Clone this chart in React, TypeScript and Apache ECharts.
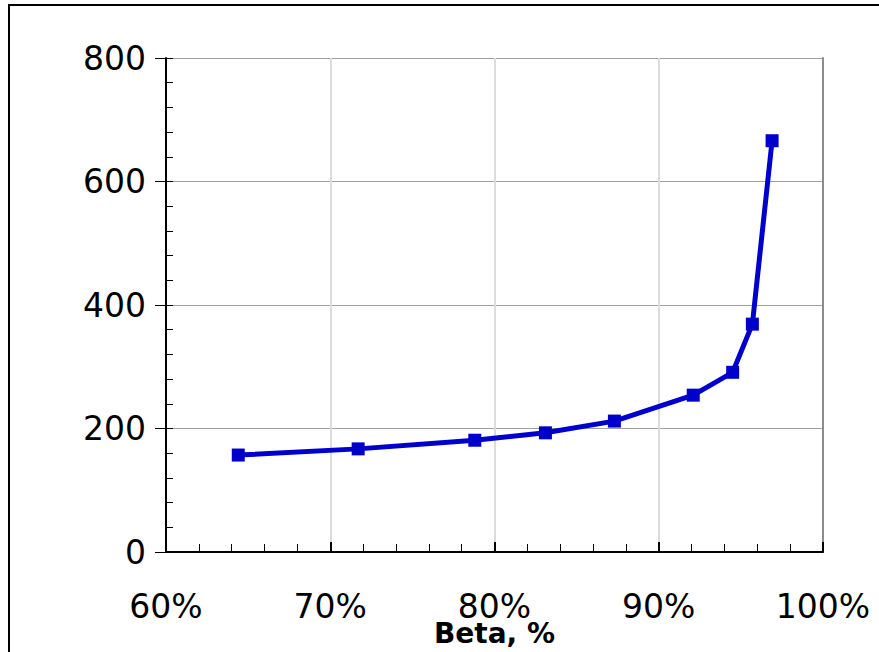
import React, { useEffect, useRef } from "react";
import * as echarts from "echarts";

const betaPct = [64.4, 71.7, 78.8, 83.1, 87.3, 92.1, 94.5, 95.7, 96.9];
const values = [157, 167, 181, 193, 212, 254, 291, 369, 666];
const xTicks = [60, 70, 80, 90, 100];
const yTicks = [0, 200, 400, 600, 800];
const xTitle = "Beta, %";

export default function App() {
  const ref = useRef<HTMLDivElement>(null);
  useEffect(() => {
    if (!ref.current) return;
    const chart = echarts.init(ref.current, null, { renderer: "svg" });
    const font = "DejaVu Sans, Verdana, sans-serif";
    const yBase = {
      type: "value",
      min: yTicks[0],
      max: yTicks[yTicks.length - 1],
      interval: yTicks[1] - yTicks[0],
    };
    chart.setOption({
      animation: false,
      backgroundColor: "#ffffff",
      graphic: [
        {
          type: "rect",
          shape: { x: 9, y: 5, width: 900, height: 700 },
          style: { fill: "none", stroke: "#000", lineWidth: 2 },
          silent: true,
          z: 0,
        },
      ],
      grid: {
        left: 166,
        right: 56,
        top: 58,
        bottom: 100,
        containLabel: false,
        outerBoundsMode: "none",
      },
      xAxis: [
        {
          type: "value",
          min: xTicks[0],
          max: xTicks[xTicks.length - 1],
          interval: xTicks[1] - xTicks[0],
          name: xTitle,
          nameLocation: "middle",
          nameGap: 81,
          nameMoveOverlap: false,
          nameTextStyle: {
            fontFamily: font,
            fontWeight: "bold",
            fontSize: 28,
            color: "#000",
            verticalAlign: "middle",
          },
          axisLine: { show: true, onZero: false, lineStyle: { color: "#000", width: 2 } },
          axisTick: { show: true, inside: true, length: 10, lineStyle: { color: "#000", width: 2 } },
          minorTick: { show: true, splitNumber: 5, length: 8, lineStyle: { color: "#000", width: 1 } },
          axisLabel: {
            formatter: "{value}%",
            margin: 38,
            fontFamily: font,
            fontSize: 33,
            color: "#000",
          },
          splitLine: { show: true, lineStyle: { color: "#dcdcdc", width: 2 } },
        },
      ],
      yAxis: [
        {
          ...yBase,
          position: "left",
          axisLine: { show: true, lineStyle: { color: "#000", width: 2 } },
          axisTick: { show: true, inside: false, length: 11, lineStyle: { color: "#000", width: 1 } },
          axisLabel: { margin: 20, fontFamily: font, fontSize: 33, color: "#000" },
          splitLine: { show: true, lineStyle: { color: "#a0a0a0", width: 1 } },
        },
        {
          ...yBase,
          position: "left",
          axisLine: { show: false },
          axisTick: { show: true, inside: true, length: 7, lineStyle: { color: "#000", width: 1 } },
          minorTick: { show: true, splitNumber: 5, length: 7, lineStyle: { color: "#000", width: 1 } },
          axisLabel: { show: false },
          splitLine: { show: false },
        },
        {
          ...yBase,
          position: "right",
          axisLine: { show: true, lineStyle: { color: "#8c8c8c", width: 2 } },
          axisTick: { show: false },
          axisLabel: { show: false },
          splitLine: { show: false },
        },
      ],
      series: [
        {
          type: "line",
          yAxisIndex: 0,
          data: betaPct.map((b, i) => [b, values[i]]),
          lineStyle: { color: "#0000cc", width: 5 },
          itemStyle: { color: "#0000cc" },
          symbol: "rect",
          symbolSize: 13,
          z: 5,
        },
      ],
    });
    return () => chart.dispose();
  }, []);
  return <div ref={ref} style={{ width: 879, height: 652, position: "absolute", left: 0, top: 0 }} />;
}
